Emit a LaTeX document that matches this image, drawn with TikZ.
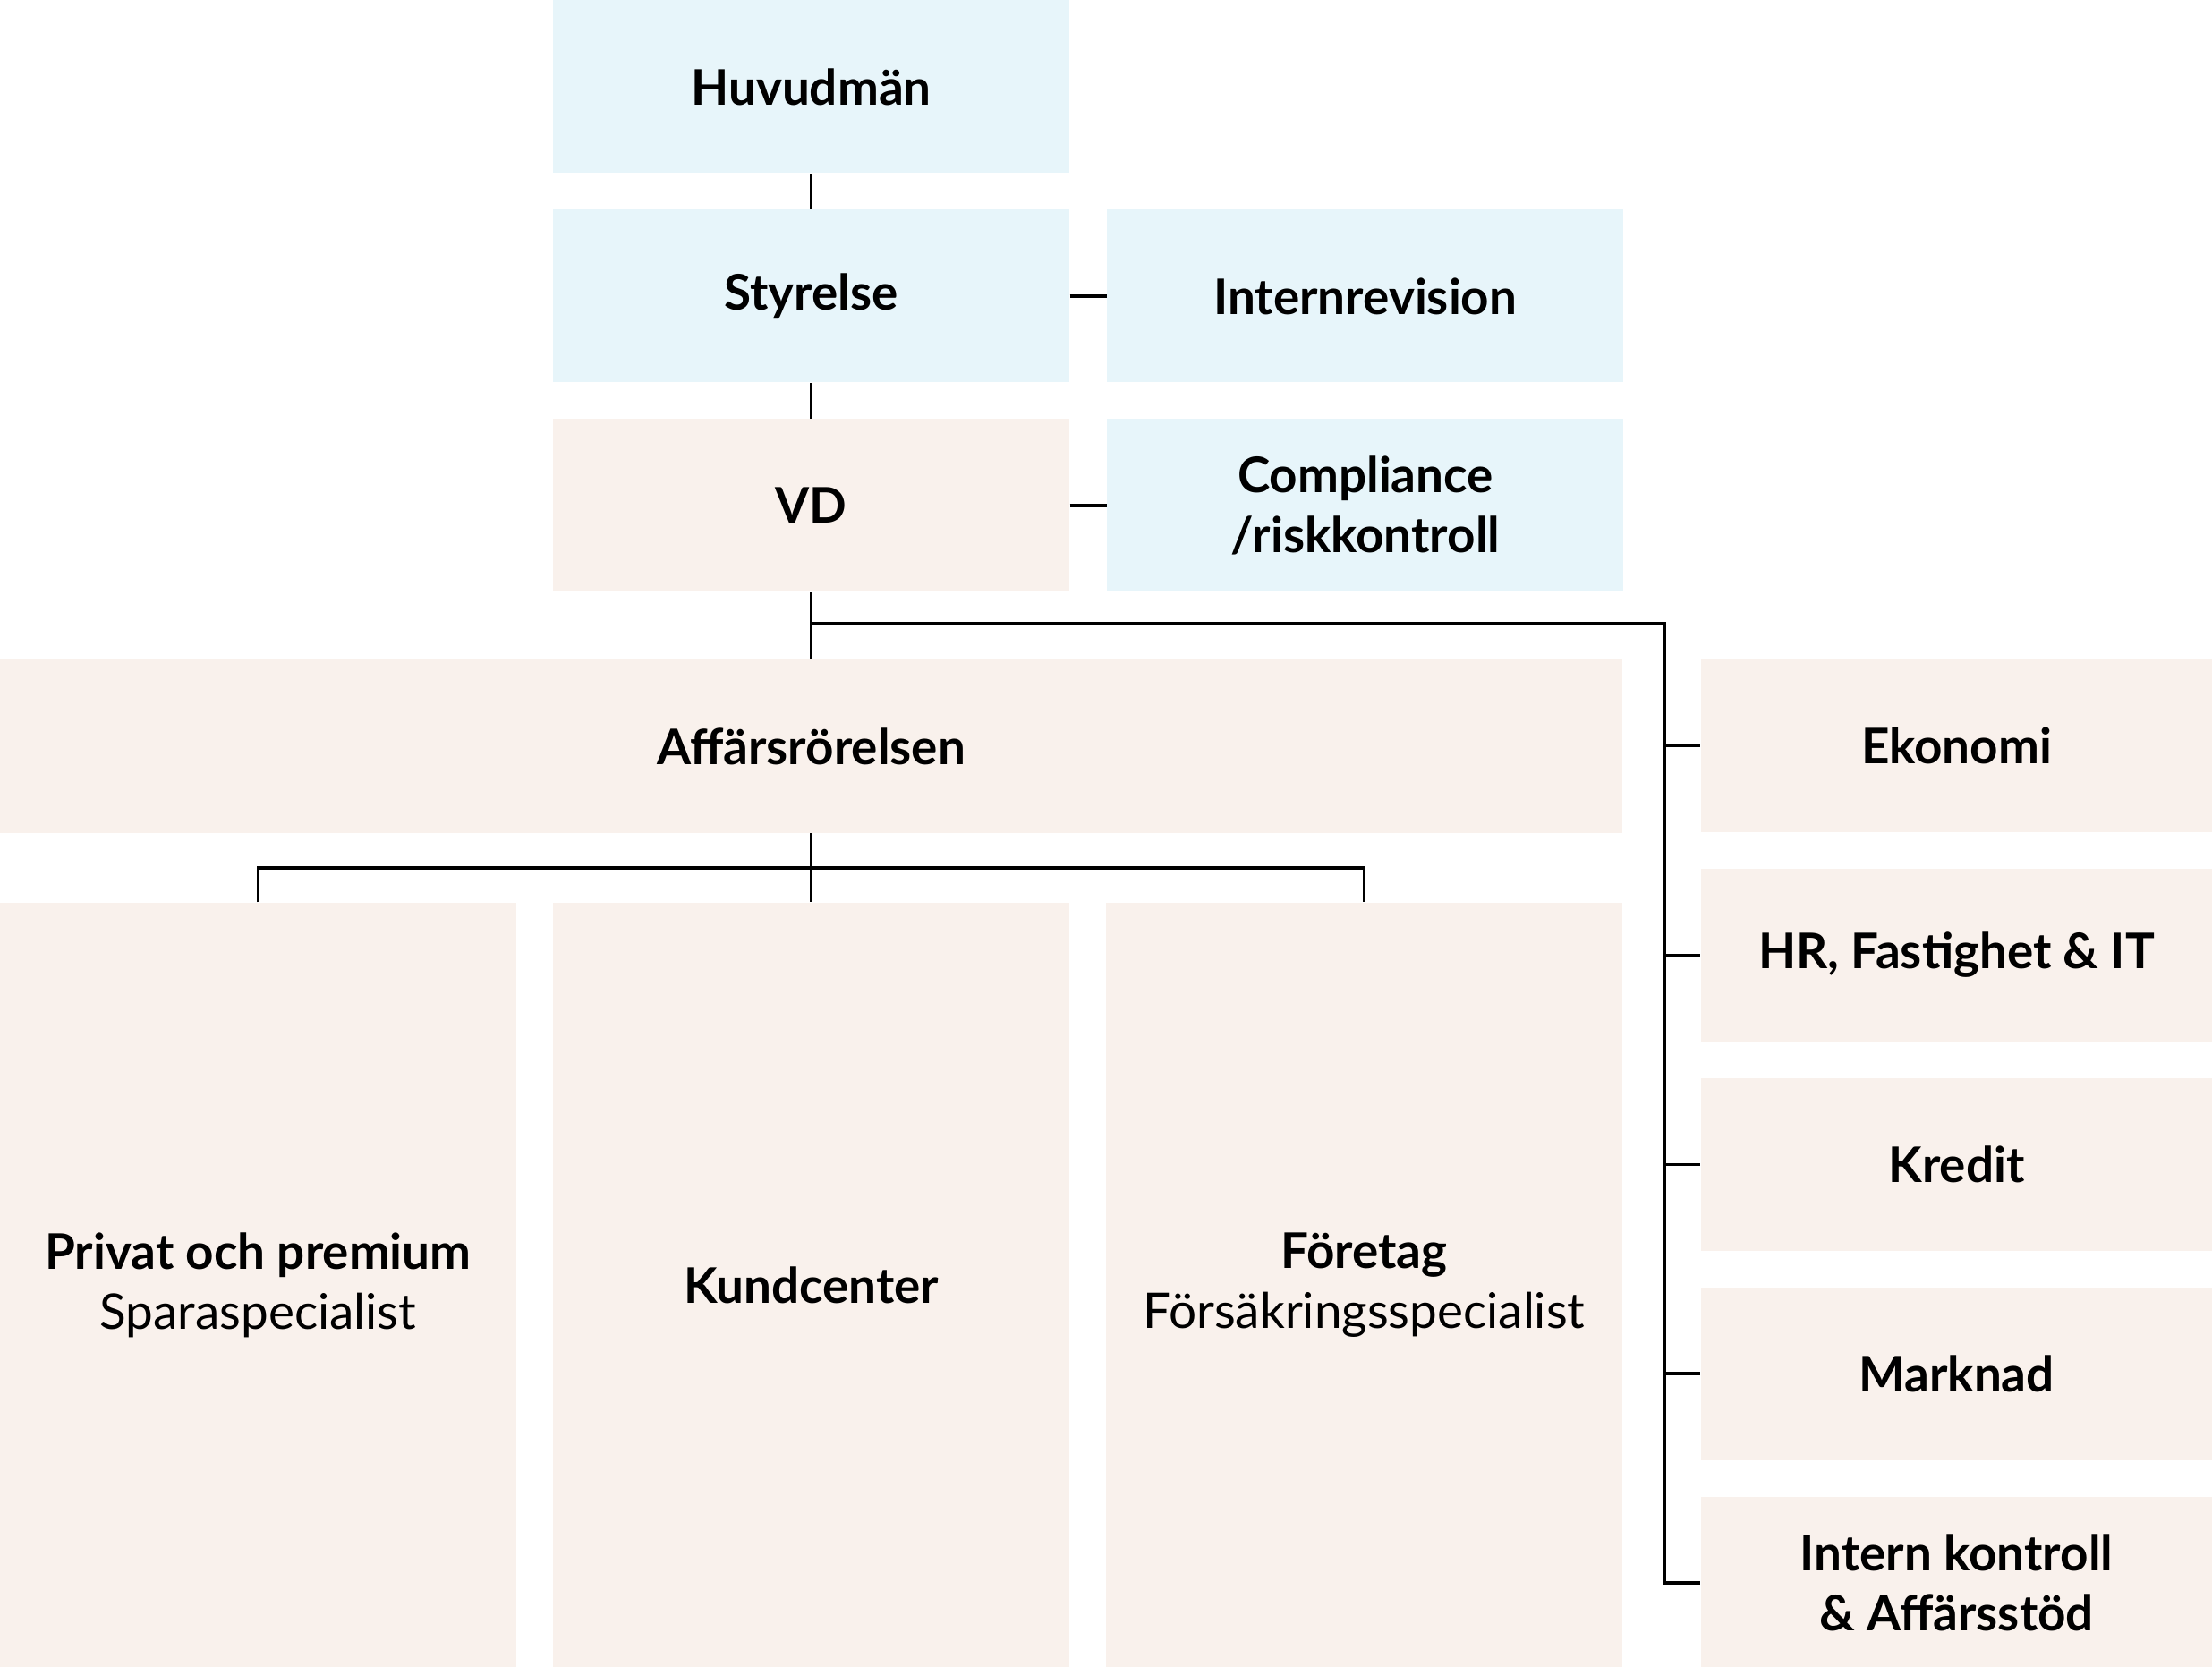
\documentclass[tikz,border=0pt]{standalone}
\usepackage{fontspec}
\setmainfont{Lato}
\usetikzlibrary{positioning,calc}

\definecolor{boardblue}{HTML}{E7F5FA}
\definecolor{opsbeige}{HTML}{F9F1EC}

\begin{document}
\begin{tikzpicture}[
  font=\fontsize{15.6}{19}\selectfont\bfseries,
  node distance=0.395cm,
  box/.style={inner sep=0pt,align=center,minimum width=5.77cm,minimum height=1.93cm},
  gov/.style={box,fill=boardblue},
  ops/.style={box,fill=opsbeige},
  side/.style={ops,minimum width=5.71cm},
  column/.style={ops,minimum height=8.54cm},
  link/.style={line width=1pt,black}
]
\useasboundingbox (0,0) rectangle (24.72,-18.63);

% governance
\node[gov] (huv) at (9.065,-0.97) {Huvudmän};
\node[gov,below=of huv] (sty) {Styrelse};
\node[ops,below=of sty] (vd) {VD};
\node[gov,right=0.41cm of sty] (irev) {Internrevision};
\node[gov,right=0.41cm of vd] (comp) {Compliance\\/riskkontroll};

% business
\node[ops,minimum width=18.13cm] (aff) at (9.065,-8.34) {Affärsrörelsen};
\node[column] (priv) at (2.885,-14.36) {Privat och premium\\\mdseries Sparaspecialist};
\node[column] (kund) at (9.065,-14.36) {Kundcenter};
\node[column] (fore) at (15.245,-14.36) {Företag\\\mdseries Försäkringsspecialist};

% support functions
\node[side] (eko) at (21.865,-8.335) {Ekonomi};
\node[side,below=of eko] (hr) {HR, Fastighet \& IT};
\node[side,below=of hr] (kre) {Kredit};
\node[side,below=of kre] (mar) {Marknad};
\node[side,below=of mar] (ik) {Intern kontroll\\\& Affärsstöd};

\coordinate (rail) at (18.60,-6.97);

\draw[link] (huv) -- (sty);
\draw[link] (sty) -- (vd);
\draw[link] (sty) -- (irev);
\draw[link] (vd) -- (comp);
\draw[link] (vd) -- (aff);
\draw[link] (rail -| vd.south) -- (rail) |- (ik.west);
\foreach \n in {eko,hr,kre,mar}
  \draw[link] (rail |- \n.west) -- (\n.west);
\draw[link] (aff) -- (kund);
\draw[link] (priv.north) |- ($(aff.south)!.5!(kund.north)$) -| (fore.north);
\end{tikzpicture}
\end{document}
